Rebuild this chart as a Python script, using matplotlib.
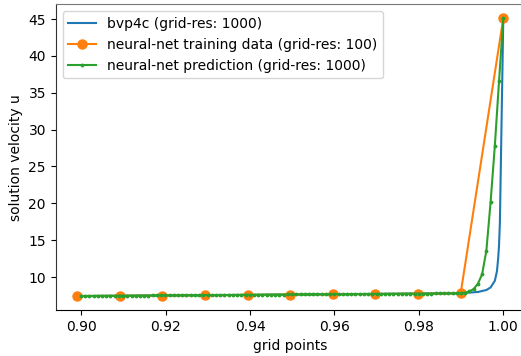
import numpy as np
import matplotlib
matplotlib.use("Agg")
import matplotlib.pyplot as plt

# bvp4c solution
bvp_x = [0.900, 0.930, 0.960, 0.980, 0.990, 0.994, 0.996, 0.997, 0.998, 0.9985, 0.9988, 0.9990, 0.9992, 1.000]
bvp_u = [7.42, 7.54, 7.67, 7.76, 7.82, 7.98, 8.25, 8.6, 9.5, 10.8, 12.6, 14.4, 17.5, 45.1]

# training data (grid-res 100), last 11 grid points
train_idx = list(range(89, 100))
train_u = [7.42, 7.46, 7.50, 7.54, 7.58, 7.62, 7.66, 7.70, 7.74, 7.78, 45.1]

# neural-net prediction (grid-res 1000), last 101 grid points
pred_idx = list(range(899, 1000))
pred_u = [
    7.44, 7.44, 7.45, 7.45, 7.46, 7.46, 7.46, 7.47, 7.47, 7.48,
    7.48, 7.48, 7.49, 7.49, 7.50, 7.50, 7.50, 7.51, 7.51, 7.52,
    7.52, 7.52, 7.53, 7.53, 7.54, 7.54, 7.54, 7.55, 7.55, 7.56,
    7.56, 7.56, 7.57, 7.57, 7.58, 7.58, 7.58, 7.59, 7.59, 7.60,
    7.60, 7.60, 7.61, 7.61, 7.62, 7.62, 7.62, 7.63, 7.63, 7.64,
    7.64, 7.64, 7.65, 7.65, 7.66, 7.66, 7.66, 7.67, 7.67, 7.68,
    7.68, 7.68, 7.69, 7.69, 7.70, 7.70, 7.70, 7.71, 7.71, 7.72,
    7.72, 7.72, 7.73, 7.73, 7.74, 7.74, 7.74, 7.75, 7.75, 7.76,
    7.76, 7.76, 7.77, 7.77, 7.78, 7.78, 7.78, 7.79, 7.79, 7.80,
    7.80,
    7.90, 8.05, 8.40, 9.10, 10.4, 13.6, 20.2, 27.8, 36.6, 45.1,
]

train_x = np.array(train_idx) / 99.0
pred_x = np.array(pred_idx) / 999.0

plt.rcParams['font.size'] = 10
fig = plt.figure(figsize=(5.21, 3.56), dpi=100)
ax = fig.add_axes([0.1069, 0.1292, 0.900, 0.8585])

ax.plot(bvp_x, bvp_u, color='tab:blue', lw=1.5, label='bvp4c (grid-res: 1000)')
ax.plot(train_x, train_u, color='tab:orange', lw=1.5, marker='o', markersize=6.5,
        label='neural-net training data (grid-res: 100)')
ax.plot(pred_x, pred_u, color='tab:green', lw=1.5, marker='.', markersize=3.5,
        label='neural-net prediction (grid-res: 1000)')

# the right frame edge lies just outside the cropped picture in the reference
ax.spines['right'].set_visible(False)
ax.spines['top'].set_color('#777777')
ax.spines['left'].set_color('#333333')

ax.set_xlabel('grid points')
ax.set_ylabel('solution velocity u')
ax.legend(loc='upper left', fontsize=10)

fig.savefig('out.png', dpi=100)
